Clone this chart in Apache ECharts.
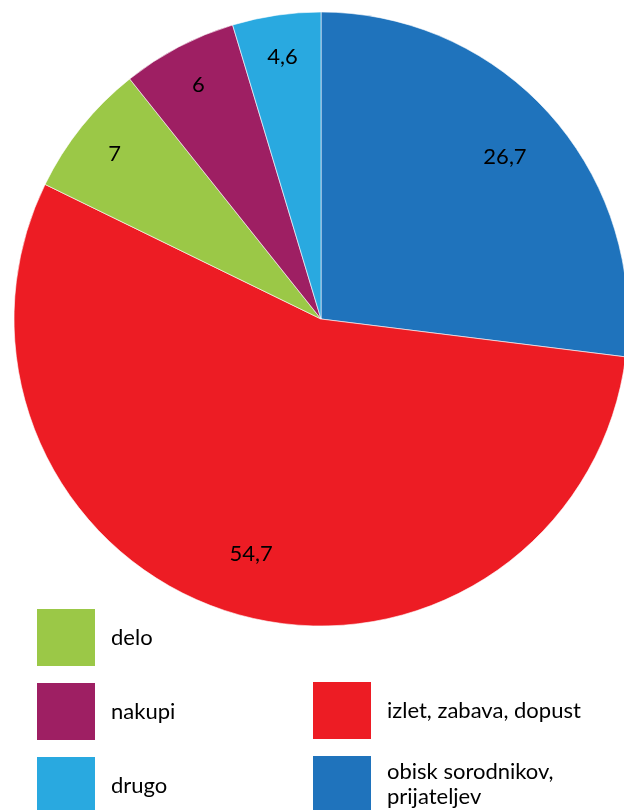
<!DOCTYPE html>
<html><head><meta charset="utf-8">
<script src="https://cdn.jsdelivr.net/npm/echarts@6/dist/echarts.min.js"></script>
<style>html,body{margin:0;padding:0;background:#fff}#c{width:624px;height:810px}</style>
</head><body><div id="c"></div>
<script>
const categories = ['obisk sorodnikov,\nprijateljev', 'izlet, zabava, dopust', 'delo', 'nakupi', 'drugo'];
const values = [26.7, 54.7, 7, 6, 4.6];
const colors = ['#1f73bc', '#ed1c24', '#9bc847', '#9e1f63', '#29a9e0'];
const legendLeft = ['delo', 'nakupi', 'drugo'];
const legendRight = ['izlet, zabava, dopust', 'obisk sorodnikov,\nprijateljev'];

const font = 'Lato, "Open Sans", sans-serif';
const data = categories.map((n, i) => ({ name: n, value: values[i], itemStyle: { color: colors[i] } }));
const chart = echarts.init(document.getElementById('c'));
const legendBase = {
  orient: 'vertical', icon: 'rect', itemWidth: 60, itemHeight: 59, itemGap: 13,
  selectedMode: false, height: 400, width: 300, padding: 0,
  textStyle: { fontFamily: font, fontSize: 22, color: '#000', padding: [0, 0, 0, 10], lineHeight: 25 }
};
function labelRing(inner, showFn) {
  return {
    type: 'pie', center: [321, 319], radius: [inner, 307], startAngle: 90, clockwise: true,
    data: data.map(d => ({ name: d.name, value: d.value, itemStyle: { color: 'rgba(0,0,0,0)' },
      label: { show: showFn(d.value) } })),
    silent: true, legendHoverLink: false,
    label: {
      position: 'inside', fontFamily: font, fontSize: 22, color: '#000',
      formatter: p => String(p.value).replace('.', ',')
    },
    labelLine: { show: false }
  };
}
chart.setOption({
  animation: false,
  legend: [
    Object.assign({}, legendBase, { data: legendLeft, left: 35, top: 607 }),
    Object.assign({}, legendBase, { data: legendRight, left: 311, top: 680 })
  ],
  series: [
    {
      type: 'pie', center: [321, 319], radius: [0, 307], startAngle: 90, clockwise: true,
      data: data, silent: true,
      itemStyle: { borderColor: '#ffffff', borderWidth: 0.6 },
      label: { show: false }, labelLine: { show: false }
    },
    labelRing(178, v => v > 10),
    labelRing(216, v => v <= 10)
  ]
});
</script></body></html>
